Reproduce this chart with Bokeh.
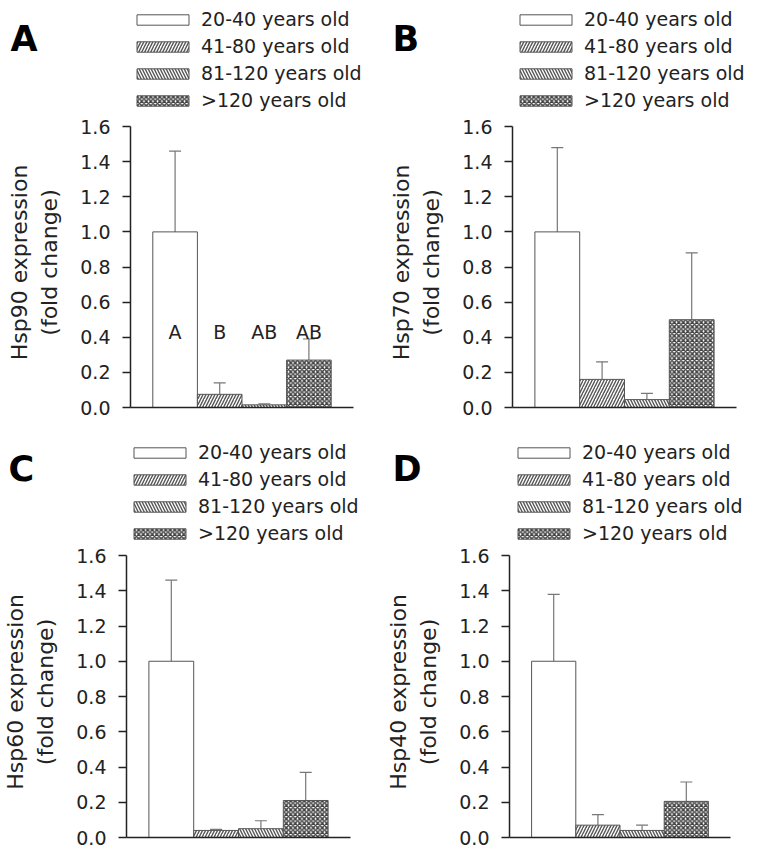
from bokeh.plotting import figure
from bokeh.models import (ColumnDataSource, Whisker, TeeHead, Legend, LegendItem,
                          Label, FactorRange, Range1d, FixedTicker, NumeralTickFormatter)
from bokeh.layouts import column, row
from bokeh.core.properties import value
from bokeh.embed import file_html
from bokeh.resources import INLINE

# ---------------- data ----------------
groups = ["20-40 years old", "41-80 years old", "81-120 years old", ">120 years old"]
y_ticks = [0.0, 0.2, 0.4, 0.6, 0.8, 1.0, 1.2, 1.4, 1.6]

hsp90_mean = [1.0, 0.075, 0.015, 0.27]
hsp90_sem = [0.46, 0.065, 0.006, 0.12]
hsp90_letters = ["A", "B", "AB", "AB"]

hsp70_mean = [1.0, 0.16, 0.045, 0.50]
hsp70_sem = [0.48, 0.10, 0.035, 0.38]

hsp60_mean = [1.0, 0.04, 0.05, 0.21]
hsp60_sem = [0.46, 0.006, 0.045, 0.16]

hsp40_mean = [1.0, 0.07, 0.04, 0.205]
hsp40_sem = [0.38, 0.06, 0.03, 0.11]

# ---------------- styling ----------------
FONT = "DejaVu Sans"
TEXT = "#222222"
EDGE = "#555555"

bar_styles = [
    dict(fill_color="white", hatch_pattern=" "),
    dict(fill_color="white", hatch_pattern="/", hatch_scale=6, hatch_weight=1.4, hatch_color="#555555"),
    dict(fill_color="white", hatch_pattern="\\", hatch_scale=6, hatch_weight=1.4, hatch_color="#555555"),
    dict(fill_color="white", hatch_pattern="x", hatch_scale=4.5, hatch_weight=1.5, hatch_color="#444444"),
]

STRIP_H = 117  # height of the band holding the panel letter and legend


def make_strip(letter, means, width, leg_x, leg_y, let_x, let_base):
    s = figure(width=width, height=STRIP_H,
               x_range=FactorRange(*groups), y_range=Range1d(0, 1),
               output_backend="svg", toolbar_location=None,
               x_axis_location=None, y_axis_location=None,
               min_border_left=0, min_border_right=0, min_border_top=0, min_border_bottom=0)
    s.outline_line_color = None
    s.xgrid.visible = False
    s.ygrid.visible = False
    items = []
    for g, m, st in zip(groups, means, bar_styles):
        src = ColumnDataSource(dict(x=[g], top=[m]))
        r = s.vbar(x="x", top="top", width=1.0, source=src,
                   line_color=EDGE, line_width=1, **st)
        r.visible = False
        items.append(LegendItem(label=g, renderers=[r]))
    legend = Legend(items=items, location=(leg_x, leg_y))
    legend.margin = 0
    legend.padding = 0
    legend.spacing = 5
    legend.glyph_width = 65
    legend.glyph_height = 13
    legend.label_height = 20
    legend.label_standoff = 6
    legend.label_text_font = FONT
    legend.label_text_font_size = "19px"
    legend.label_text_color = TEXT
    legend.border_line_color = None
    legend.background_fill_alpha = 0
    legend.inactive_fill_alpha = 0
    legend.click_policy = "none"
    s.add_layout(legend)

    lab = Label(x=let_x, y=STRIP_H - let_base, x_units="screen", y_units="screen",
                text=letter, text_font=FONT, text_font_size="35px",
                text_font_style="bold", text_color="black", text_baseline="alphabetic")
    s.add_layout(lab)
    return s


def make_panel(ylabel, means, sems, sig, width, height, left, right, bottom, px16):
    frame_h = height - bottom
    y_end = 1.6 * frame_h / px16
    p = figure(width=width, height=height,
               x_range=FactorRange(*groups, range_padding=0.5, range_padding_units="absolute"),
               y_range=Range1d(0, y_end),
               output_backend="svg", toolbar_location=None,
               min_border_left=left, min_border_right=right,
               min_border_top=0, min_border_bottom=bottom)
    p.outline_line_color = None
    p.xgrid.visible = False
    p.ygrid.visible = False

    for g, m, st in zip(groups, means, bar_styles):
        src = ColumnDataSource(dict(x=[g], top=[m]))
        p.vbar(x="x", top="top", width=1.0, source=src,
               line_color=EDGE, line_width=1, **st)

    upper = [m + s for m, s in zip(means, sems)]
    wsrc = ColumnDataSource(dict(x=groups, lower=means, upper=upper))
    w = Whisker(base="x", lower="lower", upper="upper", source=wsrc,
                lower_head=None,
                upper_head=TeeHead(size=12, line_color="#777777", line_width=1.2),
                line_color="#777777", line_width=1.2)
    p.add_layout(w)

    if sig is not None:
        tsrc = ColumnDataSource(dict(x=groups, y=[0.43] * len(groups), t=sig))
        p.text(x="x", y="y", text="t", source=tsrc, text_align="center",
               text_baseline="alphabetic", text_font=value(FONT),
               text_font_size="19px", text_color=TEXT)

    ya = p.yaxis[0]
    ya.ticker = FixedTicker(ticks=y_ticks)
    ya.formatter = NumeralTickFormatter(format="0.0")
    ya.bounds = (0, 1.6)
    ya.major_tick_in = 0
    ya.major_tick_out = 8
    ya.minor_tick_line_color = None
    ya.axis_line_color = TEXT
    ya.axis_line_width = 1.5
    ya.major_tick_line_color = TEXT
    ya.major_tick_line_width = 1.5
    ya.major_label_standoff = 12
    ya.major_label_text_font = FONT
    ya.major_label_text_font_size = "19px"
    ya.major_label_text_color = TEXT
    ya.axis_label = ylabel
    ya.axis_label_standoff = 15
    ya.axis_label_text_font = FONT
    ya.axis_label_text_font_size = "22px"
    ya.axis_label_text_font_style = "normal"
    ya.axis_label_text_color = TEXT

    xa = p.xaxis[0]
    xa.ticker = FixedTicker(ticks=[])
    xa.major_tick_line_color = None
    xa.major_tick_out = 0
    xa.major_tick_in = 0
    xa.major_label_standoff = 0
    xa.axis_line_color = TEXT
    xa.axis_line_width = 1.5
    return p


sA = make_strip("A", hsp90_mean, 379, 130, 6, 10, 38)
pA = make_panel("Hsp90 expression\n(fold change)", hsp90_mean, hsp90_sem, hsp90_letters,
                379, 312, 130, 26, 22, 281)
sB = make_strip("B", hsp70_mean, 379, 134, 6, 13, 38)
pB = make_panel("Hsp70 expression\n(fold change)", hsp70_mean, hsp70_sem, None,
                379, 312, 133, 22, 22, 281)
sC = make_strip("C", hsp60_mean, 379, 127, 2, 8, 39)
pC = make_panel("Hsp60 expression\n(fold change)", hsp60_mean, hsp60_sem, None,
                379, 307, 126, 29, 16, 282)
sD = make_strip("D", hsp40_mean, 379, 132, 2, 13, 39)
pD = make_panel("Hsp40 expression\n(fold change)", hsp40_mean, hsp40_sem, None,
                379, 307, 130, 28, 16, 282)

layout = column(row(sA, sB), row(pA, pB), row(sC, sD), row(pC, pD))
open("out.html", "w").write(file_html(layout, INLINE))
